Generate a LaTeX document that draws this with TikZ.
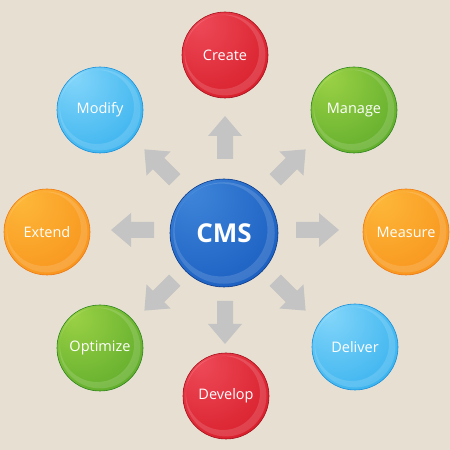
\documentclass[tikz,border=0pt]{standalone}
\usepackage{fontspec}
\setmainfont{Open Sans}
\definecolor{bgc}{HTML}{E7E0D2}
\definecolor{arrowc}{HTML}{C4C4C4}
\definecolor{glA}{HTML}{FFFFFF}
\definecolor{glB}{HTML}{888888}
\definecolor{glC}{HTML}{000000}
\pgfdeclareradialshading[glA,glB,glC]{glossy}{\pgfpoint{-16bp}{20bp}}{color(0bp)=(glA); color(42bp)=(glB); color(66bp)=(glC); color(90bp)=(glC)}
\tikzset{
  bubble/.style n args={3}{circle, minimum size=86pt, inner sep=0pt, text=white,
    font=\fontsize{14.5}{17}\selectfont,
    /utils/exec={\definecolor{glA}{HTML}{#1}\definecolor{glB}{HTML}{#2}\definecolor{glC}{HTML}{#3}},
    shading=glossy, draw=glC, line width=0.6pt,
    path picture={\fill[white,opacity=0.14,even odd rule]
      (path picture bounding box.center) circle (0.47*\pgfkeysvalueof{/pgf/minimum width})
      ([shift={(-3pt,3pt)}]path picture bounding box.center) circle (0.43*\pgfkeysvalueof{/pgf/minimum width});}},
  blockarrow/.style={fill=arrowc}
}
\begin{document}
\begin{tikzpicture}[x=1pt,y=1pt]
\fill[bgc] (0,0) rectangle (450,450);
\useasboundingbox (0,0) rectangle (450,450);
\coordinate (hub) at (225,220);
\foreach \ang in {90,45,0,-45,-90,-135,180,135}{
  \fill[blockarrow,shift={(hub)},rotate=\ang]
    (71,-8) -- (94,-8) -- (94,-17) -- (114,0) -- (94,17) -- (94,8) -- (71,8) -- cycle;
}
\node[bubble={3F86DA}{1A5EC0}{0B3888}, minimum size=108pt, font=\fontsize{26}{30}\selectfont\bfseries] (cms) at (224,217) {CMS};
\node[bubble={EE4A58}{D81E2B}{A50D19}] (create) at (225,395) {Create};
\node[bubble={9CD246}{5FAC2B}{2C841B}] (manage) at (354,340) {Manage};
\node[bubble={FDB83A}{F8941D}{EE7812}] (measure) at (406,218) {Measure};
\node[bubble={84D6FA}{38B2EE}{188EDA}] (deliver) at (355,103) {Deliver};
\node[bubble={EE4A58}{D81E2B}{A50D19}] (develop) at (226,54) {Develop};
\node[bubble={9CD246}{5FAC2B}{2C841B}] (optimize) at (100,102) {Optimize};
\node[bubble={FDB83A}{F8941D}{EE7812}] (extend) at (47,218) {Extend};
\node[bubble={84D6FA}{38B2EE}{188EDA}] (modify) at (100,340) {Modify};
\end{tikzpicture}
\end{document}
